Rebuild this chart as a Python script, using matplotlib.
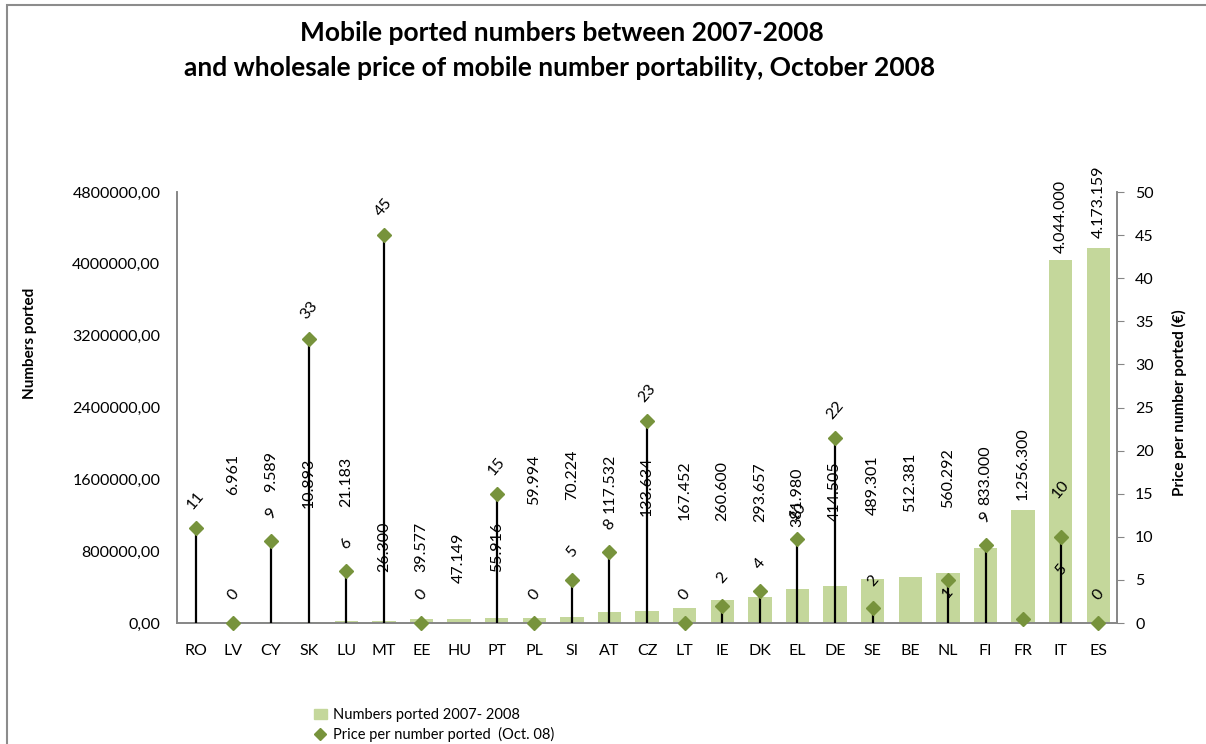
"""Mobile ported numbers 2007-2008 vs wholesale MNP price, Oct 2008.

Bars = numbers ported (left axis), diamonds with drop lines = price (right axis).
"""
import matplotlib
matplotlib.use("Agg")
import matplotlib.pyplot as plt
from matplotlib.patches import Rectangle
from matplotlib.ticker import FuncFormatter, MultipleLocator
import numpy as np

plt.rcParams["font.family"] = ["Lato", "DejaVu Sans"]

COUNTRIES = ["RO", "LV", "CY", "SK", "LU", "MT", "EE", "HU", "PT", "PL", "SI", "AT",
             "CZ", "LT", "IE", "DK", "EL", "DE", "SE", "BE", "NL", "FI", "FR", "IT", "ES"]
PORTED = [np.nan, 6961, 9589, 10893, 21183, 26300, 39577, 47149, 55916, 59994, 70224,
          117532, 133634, 167452, 260600, 293657, 381980, 414505, 489301, 512381,
          560292, 833000, 1256300, 4044000, 4173159]
PORTED_LABELS = ["", "6.961", "9.589", "10.893", "21.183", "26.300", "39.577", "47.149",
                 "55.916", "59.994", "70.224", "117.532", "133.634", "167.452", "260.600",
                 "293.657", "381.980", "414.505", "489.301", "512.381", "560.292",
                 "833.000", "1.256.300", "4.044.000", "4.173.159"]
PRICE = [11, 0, 9.5, 33, 6, 45, 0, np.nan, 15, 0, 5, 8.2, 23.4, 0, 2, 3.7, 9.7, 21.5,
         1.7, np.nan, 5, 9, 0.5, 10, 0]
PRICE_LABELS = ["11", "0", "9", "33", "6", "45", "0", "", "15", "0", "5", "8", "23", "0",
                "2", "4", "10", "22", "2", "", "1", "9", "", "10", "0"]

# layout only: bottom of each rotated bar label (axes fraction)
BAR_LABEL_Y = [0, 0.297, 0.304, 0.267, 0.269, 0.118, 0.118, 0.093, 0.118, 0.273, 0.285,
               0.255, 0.248, 0.239, 0.237, 0.234, 0.223, 0.237, 0.251, 0.258, 0.267,
               0.274, 0.285, 0.859, 0.893]
# price label offsets (points above the diamond); defaults to 20
PRICE_LABEL_DY = {"NL": -9, "IT": 34}
EXTRA_PRICE_LABELS = [("IT", "5", -24)]

BAR_C = "#C4D79B"
DOT_C = "#77933C"
GREY = "#868686"

fig = plt.figure(figsize=(12.06, 7.44), dpi=100)
ax = fig.add_axes([0.1468, 0.1626, 0.7795, 0.5793])
ax2 = ax.twinx()

x = np.arange(len(COUNTRIES))
ax.bar(x, PORTED, 0.62, color=BAR_C, zorder=1)
ax.set_xlim(-0.5, len(COUNTRIES) - 0.5)
ax.set_ylim(0, 4800000)
ax.yaxis.set_major_locator(MultipleLocator(800000))
ax.yaxis.set_major_formatter(FuncFormatter(lambda v, p: f"{v:.2f}".replace(".", ",")))
ax.set_xticks(x)
ax.set_xticklabels(COUNTRIES)
ax.tick_params(axis="x", length=0, pad=15, labelsize=11.5)
ax.tick_params(axis="y", length=0, pad=12, labelsize=11.5)

for xi, lab, ly in zip(x, PORTED_LABELS, BAR_LABEL_Y):
    if lab:
        ax.text(xi, ly, lab, transform=ax.get_xaxis_transform(), rotation=90,
                ha="center", va="bottom", fontsize=11.5)

price = np.array(PRICE, dtype=float)
ax2.vlines(x, 0, price, color="black", lw=1.6, zorder=3)
ax2.plot(x, price, ls="none", marker="D", ms=7.2, color=DOT_C, zorder=4, clip_on=False)
ax2.set_ylim(0, 50)
ax2.yaxis.set_major_locator(MultipleLocator(5))
ax2.tick_params(axis="y", direction="out", length=5, color=GREY, pad=8, labelsize=11.5)

for xi, c, p, lab in zip(x, COUNTRIES, price, PRICE_LABELS):
    if lab:
        ax2.annotate(lab, (xi, p), xytext=(0, PRICE_LABEL_DY.get(c, 20)),
                     textcoords="offset points", rotation=50, ha="center", va="center",
                     rotation_mode="anchor", fontsize=11.5)
for c, lab, dy in EXTRA_PRICE_LABELS:
    i = COUNTRIES.index(c)
    ax2.annotate(lab, (i, price[i]), xytext=(0, dy), textcoords="offset points",
                 rotation=50, ha="center", va="center", rotation_mode="anchor",
                 fontsize=11.5)

for a in (ax, ax2):
    a.spines["top"].set_visible(False)
    for s in ("left", "right", "bottom"):
        a.spines[s].set_color(GREY)
        a.spines[s].set_linewidth(1.2)

fig.text(0.466, 0.955, "Mobile ported numbers between 2007-2008", ha="center",
         va="center", fontsize=19, weight="bold")
fig.text(0.464, 0.908, "and wholesale price of mobile number portability, October 2008",
         ha="center", va="center", fontsize=19, weight="bold")
fig.text(0.025, 1 - 343 / 744, "Numbers ported", rotation=90, ha="center",
         va="center", fontsize=11, weight="bold")
fig.text(0.978, 1 - 403 / 744, "Price per number ported (€)", rotation=90,
         ha="center", va="center", fontsize=11, weight="bold")

h_bar = Rectangle((0, 0), 1, 1, color=BAR_C)
h_dot, = ax2.plot([], [], ls="none", marker="D", ms=6, color=DOT_C)
fig.legend([h_bar, h_dot], ["Numbers ported 2007- 2008", "Price per number ported  (Oct. 08)"],
           loc="center left", bbox_to_anchor=(0.26, 0.025), frameon=False,
           fontsize=10.5, handlelength=0.9, handletextpad=0.4, labelspacing=0.35,
           borderaxespad=0, borderpad=0)

fig.patches.append(Rectangle((7 / 1206, -0.1), 2, 1.1 - 5 / 744, transform=fig.transFigure,
                             fill=False, edgecolor="#8c8c8c", lw=1.5))

fig.savefig("out.png", dpi=100)
